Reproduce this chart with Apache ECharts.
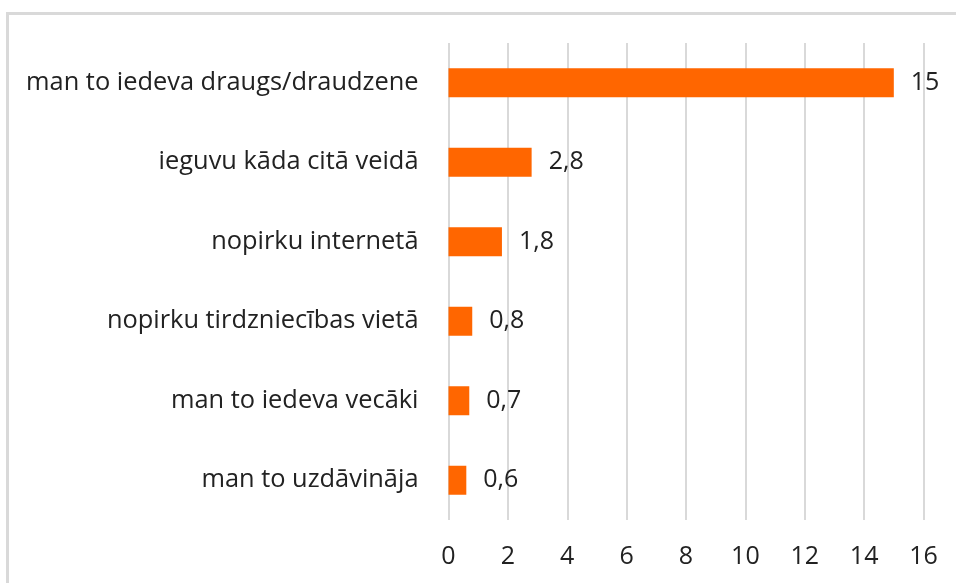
<!DOCTYPE html>
<html>
<head>
<meta charset="utf-8">
<script src="https://cdn.jsdelivr.net/npm/echarts@6/dist/echarts.min.js"></script>
<style>
  html, body { margin: 0; padding: 0; background: #fff; }
  .frame {
    position: absolute; left: 6px; top: 12px; width: 1000px; height: 600px;
    border-left: 3px solid #d9d9d9; border-top: 3px solid #d9d9d9;
  }
  #chart { position: absolute; left: 0; top: 0; width: 956px; height: 583px; }
</style>
</head>
<body>
<div class="frame"></div>
<div id="chart"></div>
<script>
const categories = [
  "man to iedeva draugs/draudzene",
  "ieguvu kāda citā veidā",
  "nopirku internetā",
  "nopirku tirdzniecības vietā",
  "man to iedeva vecāki",
  "man to uzdāvināja"
];
const values = [15, 2.8, 1.8, 0.8, 0.7, 0.6];
const xTicks = [0, 2, 4, 6, 8, 10, 12, 14, 16];

const font = "'Open Sans', sans-serif";
let myChart = echarts.init(document.getElementById("chart"));
let option = {
  animation: false,
  grid: {
    left: 448.5,
    right: 32.5,
    top: 43,
    bottom: 63,
  },
  xAxis: {
    type: "value",
    min: xTicks[0],
    max: xTicks[xTicks.length - 1],
    interval: 2,
    axisLine: { show: false },
    axisTick: { show: false },
    axisLabel: {
      color: "#222",
      fontSize: 25,
      fontFamily: font,
      margin: 24,
    },
    splitLine: {
      show: true,
      lineStyle: { color: "#d9d9d9", width: 2 },
    },
  },
  yAxis: {
    type: "category",
    inverse: true,
    data: categories,
    axisLine: { show: false },
    axisTick: { show: false },
    axisLabel: {
      color: "#222",
      fontSize: 25.4,
      fontFamily: font,
      margin: 30,
    },
  },
  series: [
    {
      type: "bar",
      data: values,
      barWidth: 29,
      itemStyle: { color: "#ff6600" },
      label: {
        show: true,
        position: "right",
        distance: 17,
        color: "#222",
        fontSize: 25,
        fontFamily: font,
        formatter: (p) => String(p.value).replace(".", ","),
      },
    },
  ],
};
myChart.setOption(option);
</script>
</body>
</html>
